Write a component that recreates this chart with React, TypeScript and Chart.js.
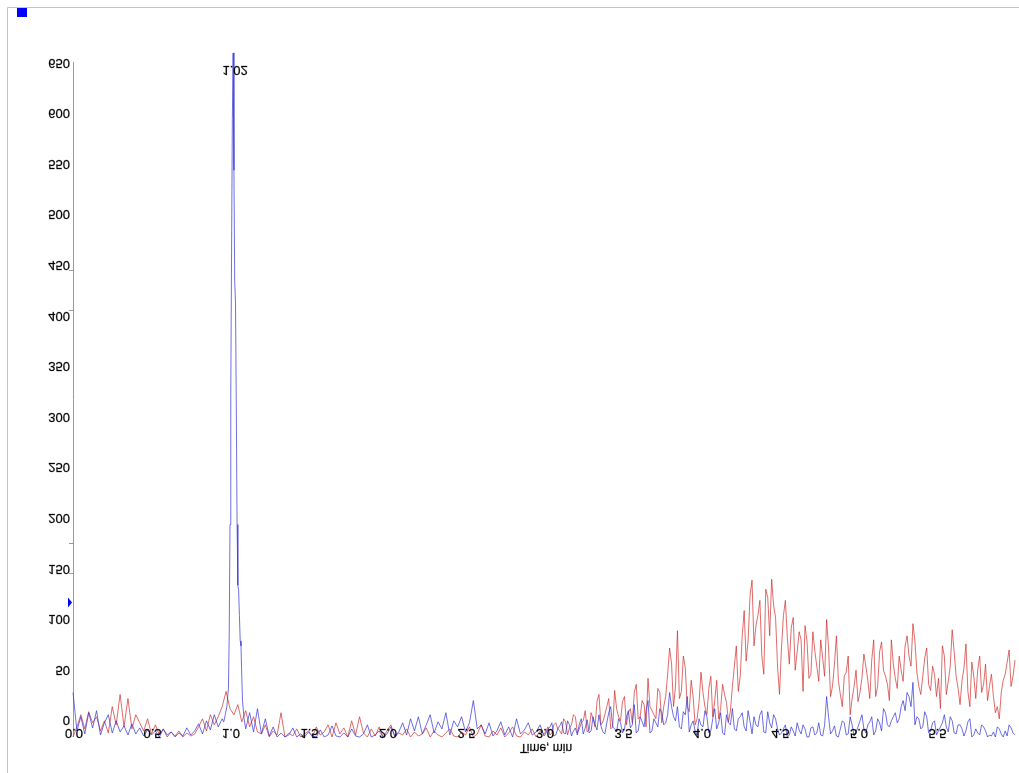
import React, { useEffect, useRef } from "react";
import { Chart, registerables } from "chart.js";

Chart.register(...registerables);

// Sampling grid of the two traces (x in axis units)
const TIME_STEP = 0.025;
// Second, offset grid used from MID_START onward where the traces are busier
const MID_START = 3.0125;

// Blue trace, sampled every TIME_STEP; the main peak is described separately (nulls)
const BLUE_TRACE: (number | null)[] = [
  44, 6, 20, 3, 24, 9, 26, 2, 14, 22,
  4, 16, 5, 11, 2, 13, 3, 9, 1, 7,
  2, 6, 0, 8, 2, 5, 0, 4, 1, 9,
  2, 6, 13, 3, 16, 7, 22, 10, 18, null,
  null, null, null, null, null, 24, 5, 28, 3, 18,
  1, 10, 0, 4, 0, 2, 9, 0, 3, 0,
  5, 1, 0, 7, 0, 2, 11, 1, 0, 4,
  0, 8, 1, 0, 3, 12, 0, 2, 6, 0,
  3, 10, 1, 5, 14, 2, 18, 6, 20, 3,
  12, 22, 4, 15, 8, 24, 2, 16, 10, 20,
  5, 14, 36, 8, 12, 3, 14, 1, 6, 15,
  2, 10, 0, 18, 3, 7, 14, 2, 5, 12,
  1, 8, 14, 2, 11, 4, 16, 1, 9, 13,
  3, 17, 6, 12, 22, 5, 14, 30, 8, 18,
  4, 20, 9, 32, 6, 15, 26, 4, 18, 10,
  24, 14, 44, 20, 30, 8, 22, 5, 16, 2,
  12, 26, 4, 18, 8, 24, 2, 14, 28, 6,
  20, 10, 26, 3, 12, 22, 5, 25, 9, 18,
  2, 8, 0, 10, 1, 7, 12, 0, 9, 2,
  14, 1, 40, 3, 11, 0, 16, 2, 20, 1,
  10, 22, 4, 15, 2, 18, 6, 24, 10, 20,
  14, 30, 26, 40, 54, 20, 8, 25, 4, 14,
  2, 10, 22, 5, 16, 3, 12, 1, 15, 0,
  8, 2, 10, 0, 1, 0, 8, 0, 1, 9, 2,
];

// Blue trace between grid samples, from MID_START
const BLUE_TRACE_MID = [
  4, 10, 1, 8, 15, 3, 12, 6, 2, 18, 9, 4, 20, 7, 11, 3, 24, 10, 5, 14,
  8, 26, 12, 4, 20, 10, 36, 6, 14, 28, 12, 22, 30, 16, 10, 25, 40, 12, 6, 18,
  10, 20, 6, 28, 14, 4, 22, 12, 8, 18, 24, 6, 15, 20, 10, 26, 4, 14, 22, 8,
  4, 12, 2, 6, 14, 3, 8, 0, 10, 4, 2, 12, 20, 6, 1, 8, 14, 3, 12, 5,
  16, 8, 12, 20, 6, 14, 28, 12, 16, 24, 18, 36, 44, 30, 12, 18, 10, 20, 6, 16,
  6, 14, 10, 20, 4, 12, 8, 6, 18, 2, 4, 12, 6, 2, 5, 10, 3, 6, 12, 4,
];

// Main peak of the blue trace
const PEAK_TIMES = [
  0.96, 0.97, 0.98, 0.99, 0.995, 1.0, 1.005, 1.01, 1.015, 1.02, 1.025, 1.03,
  1.035, 1.04, 1.045, 1.05, 1.055, 1.06, 1.065, 1.07, 1.075, 1.08, 1.09, 1.1,
];
const PEAK_VALUES = [
  15, 22, 30, 48, 100, 210, 340, 480, 610, 676, 560, 450,
  430, 330, 210, 150, 145, 120, 95, 90, 60, 35, 18, 8,
];
const PEAK_APEX_TIME = 1.02;

// Red trace, sampled every TIME_STEP
const RED_TRACE = [
  0, 10, 22, 8, 25, 14, 20, 6, 16, 4,
  30, 12, 42, 10, 38, 8, 22, 14, 6, 18,
  3, 12, 2, 8, 0, 5, 1, 6, 0, 4,
  1, 3, 10, 18, 6, 22, 12, 20, 30, 45,
  28, 22, 32, 15, 26, 10, 20, 5, 3, 12,
  0, 6, 2, 24, 0, 4, 1, 8, 0, 3,
  6, 0, 10, 2, 5, 12, 0, 14, 3, 9,
  0, 16, 2, 20, 4, 0, 8, 1, 10, 0,
  6, 12, 0, 4, 2, 8, 0, 5, 1, 3,
  9, 0, 6, 2, 0, 4, 8, 1, 0, 5,
  2, 10, 0, 3, 12, 1, 0, 6, 2, 9,
  0, 4, 10, 1, 0, 5, 2, 8, 0, 6,
  3, 10, 4, 14, 6, 18, 2, 12, 20, 8,
  16, 5, 24, 10, 42, 15, 30, 8, 46, 20,
  35, 12, 28, 44, 18, 36, 10, 30, 22, 48,
  14, 40, 88, 30, 105, 45, 68, 25, 40, 18,
  64, 30, 48, 20, 56, 28, 42, 15, 50, 90,
  60, 125, 95, 155, 110, 135, 62, 138, 156, 118,
  42, 120, 98, 108, 66, 104, 45, 95, 62, 85,
  55, 78, 116, 40, 72, 56, 30, 64, 22, 50,
  35, 58, 70, 38, 96, 50, 94, 60, 36, 72,
  48, 66, 90, 80, 112, 64, 42, 78, 52, 70,
  40, 28, 80, 55, 106, 60, 32, 68, 45, 74,
  38, 80, 52, 36, 62, 24, 18, 56, 74, 50, 76,
];

// Red trace between grid samples, from MID_START
const RED_TRACE_MID = [
  6, 2, 12, 8, 3, 15, 9, 22, 4, 14, 26, 7, 18, 35, 12, 22, 38, 10, 28, 16,
  40, 24, 14, 52, 20, 32, 58, 26, 18, 44, 30, 62,
  72, 50, 38, 80, 30, 56, 12, 34,
  44, 22, 60, 36, 18, 52, 34, 26,
  70, 45, 100, 75, 140, 90, 120, 80, 146, 100, 130, 70,
  88, 135, 72, 118, 84, 96, 110, 58, 104, 70,
  96, 60, 88, 50, 100, 42, 60, 80, 38, 66,
  44, 82, 56, 76, 40, 84, 66, 52, 96, 58,
  80, 55, 100, 70, 95, 50, 60, 88, 46, 62,
  58, 90, 42, 70, 84, 48, 56, 92, 30, 60,
  66, 44, 72, 50, 40, 30, 44, 62, 86, 60,
];

// Axis definitions
const X_MIN = 0;
const X_MAX = 6;
const Y_MIN = 0;
const Y_MAX = 667;
const X_TICKS = [0, 0.5, 1, 1.5, 2, 2.5, 3, 3.5, 4, 4.5, 5, 5.5];
const Y_TICKS = [0, 50, 100, 150, 200, 250, 300, 350, 400, 450, 500, 550, 600, 650];
const Y_AXIS_MARKS = [461, 422, 192, 162];
const Y_MARKER_VALUE = 133;
const X_TITLE = "Time, min";

const FONT = '"Liberation Sans", Arial, sans-serif';

type Pt = { x: number; y: number };

function gridPoints(values: (number | null)[], start: number): Pt[] {
  const pts: Pt[] = [];
  values.forEach((v, i) => {
    if (v !== null) pts.push({ x: +(start + i * TIME_STEP).toFixed(4), y: v });
  });
  return pts;
}

function blueSeries(): Pt[] {
  const pts = [...gridPoints(BLUE_TRACE, 0), ...gridPoints(BLUE_TRACE_MID, MID_START)];
  PEAK_TIMES.forEach((t, i) => pts.push({ x: t, y: PEAK_VALUES[i] }));
  pts.sort((a, b) => a.x - b.x);
  return pts;
}

function redSeries(): Pt[] {
  const pts = [...gridPoints(RED_TRACE, 0), ...gridPoints(RED_TRACE_MID, MID_START)];
  pts.sort((a, b) => a.x - b.x);
  return pts;
}

// Text in this chart is drawn mirrored top-to-bottom
function flippedText(
  ctx: CanvasRenderingContext2D,
  text: string,
  x: number,
  y: number,
  align: CanvasTextAlign,
  size: number
) {
  ctx.save();
  ctx.translate(x, y);
  ctx.scale(1, -1);
  ctx.font = `${size}px ${FONT}`;
  ctx.fillStyle = "#000";
  ctx.strokeStyle = "rgba(0,0,0,0.55)";
  ctx.lineWidth = 0.4;
  ctx.textAlign = align;
  ctx.textBaseline = "middle";
  ctx.fillText(text, 0, 0);
  ctx.strokeText(text, 0, 0);
  ctx.restore();
}

const decorPlugin = {
  id: "chromDecor",
  beforeDatasetsDraw(chart: any) {
    const ctx: CanvasRenderingContext2D = chart.ctx;
    const area = chart.chartArea;
    const yScale = chart.scales.y;
    ctx.save();
    // outer frame
    ctx.strokeStyle = "#c4c4c4";
    ctx.lineWidth = 1;
    ctx.beginPath();
    ctx.moveTo(7.5, chart.height);
    ctx.lineTo(7.5, 7.5);
    ctx.lineTo(chart.width, 7.5);
    ctx.stroke();
    // small blue square
    ctx.fillStyle = "#0000ff";
    ctx.fillRect(17, 8, 10, 9);
    // y axis line
    ctx.strokeStyle = "#9a9a9a";
    ctx.beginPath();
    ctx.moveTo(area.left + 0.5, area.top);
    ctx.lineTo(area.left + 0.5, area.bottom);
    ctx.stroke();
    // short axis marks
    Y_AXIS_MARKS.forEach((v) => {
      const py = Math.round(yScale.getPixelForValue(v)) + 0.5;
      ctx.beginPath();
      ctx.moveTo(area.left - 4, py);
      ctx.lineTo(area.left, py);
      ctx.stroke();
    });
    // threshold marker
    const my = yScale.getPixelForValue(Y_MARKER_VALUE);
    ctx.fillStyle = "#0000ff";
    ctx.beginPath();
    ctx.moveTo(area.left - 5, my - 5);
    ctx.lineTo(area.left - 1, my);
    ctx.lineTo(area.left - 5, my + 5);
    ctx.closePath();
    ctx.fill();
    ctx.restore();
  },
  afterDatasetsDraw(chart: any) {
    const ctx: CanvasRenderingContext2D = chart.ctx;
    const area = chart.chartArea;
    const xScale = chart.scales.x;
    const yScale = chart.scales.y;
    Y_TICKS.forEach((v) => {
      flippedText(ctx, String(v), area.left - 3, yScale.getPixelForValue(v) - 17, "right", 13);
    });
    X_TICKS.forEach((v) => {
      flippedText(ctx, v.toFixed(1), xScale.getPixelForValue(v) + 1, area.bottom - 4, "center", 13);
    });
    flippedText(ctx, X_TITLE, (area.left + area.right) / 2 + 2, area.bottom + 10, "center", 12);
    flippedText(
      ctx,
      PEAK_APEX_TIME.toFixed(2),
      xScale.getPixelForValue(PEAK_APEX_TIME) + 2,
      yScale.getPixelForValue(PEAK_VALUES[PEAK_TIMES.indexOf(PEAK_APEX_TIME)]) + 17,
      "center",
      13
    );
  },
};

export default function App() {
  const canvasRef = useRef<HTMLCanvasElement | null>(null);

  useEffect(() => {
    const canvas = canvasRef.current;
    if (!canvas) return;
    const chart = new Chart(canvas, {
      type: "line",
      data: {
        datasets: [
          {
            label: "blue",
            data: blueSeries(),
            borderColor: "rgba(50,50,215,0.7)",
            borderWidth: 1,
            pointRadius: 0,
            tension: 0,
            fill: false,
            clip: false,
          },
          {
            label: "red",
            data: redSeries(),
            borderColor: "rgba(210,45,45,0.7)",
            borderWidth: 1,
            pointRadius: 0,
            tension: 0,
            fill: false,
            clip: false,
          },
        ],
      },
      options: {
        responsive: false,
        animation: false,
        devicePixelRatio: 1,
        events: [],
        layout: { padding: { left: 73, top: 62, right: 4, bottom: 36 } },
        plugins: { legend: { display: false }, tooltip: { enabled: false } },
        scales: {
          x: { type: "linear", min: X_MIN, max: X_MAX, display: false },
          y: { type: "linear", min: Y_MIN, max: Y_MAX, display: false },
        },
      },
      plugins: [decorPlugin],
    } as any);
    return () => chart.destroy();
  }, []);

  return (
    <div style={{ position: "fixed", left: 0, top: 0, width: 1019, height: 773, background: "#fff" }}>
      <canvas ref={canvasRef} width={1019} height={773} style={{ display: "block" }} />
    </div>
  );
}
